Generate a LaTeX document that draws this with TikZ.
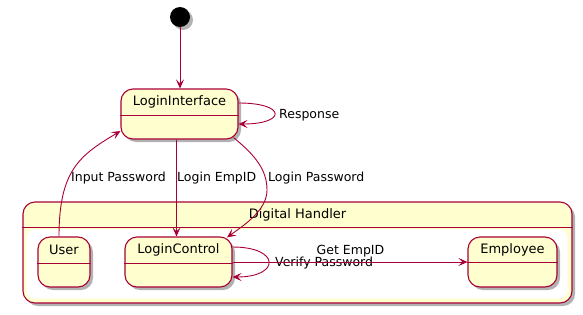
\documentclass[tikz,border=0pt]{standalone}
\usepackage{fontspec}
\setmainfont{DejaVu Sans}
\usetikzlibrary{arrows.meta,shadows}
\definecolor{umlred}{HTML}{A80036}
\definecolor{umlfill}{HTML}{FEFECE}

\begin{document}
\begin{tikzpicture}[x=1pt,y=-1pt,
  shade/.style={drop shadow={shadow xshift=3pt,shadow yshift=-3pt,opacity=0.3,fill=black}},
  state/.style={draw=umlred,fill=umlfill,line width=1.1pt,rounded corners=12pt,
    inner sep=0pt,shade},
  divider/.style={draw=umlred,line width=1.1pt},
  nm/.style={font=\fontsize{13}{15}\selectfont,inner sep=0pt},
  lbl/.style={font=\fontsize{12.5}{15}\selectfont,inner sep=0pt},
  edge/.style={draw=umlred,line width=0.9pt,
    -{Stealth[length=9pt,width=8pt,inset=4pt]}}]
\useasboundingbox (0,0) rectangle (583,314);

% initial pseudo-state
\node[circle,fill=black,minimum size=20pt,inner sep=0pt,shade] (start) at (180,17) {};

% top-level state
\node[state,minimum width=117pt,minimum height=50pt] (li) at (179.5,114) {};
\draw[divider] ([yshift=-27pt]li.north west) -- ([yshift=-27pt]li.north east);
\node[nm] (liname) at ([yshift=-13.5pt]li.north) {LoginInterface};

% composite state
\node[state,minimum width=549pt,minimum height=101pt] (dh) at (297.5,252.5) {};
\draw[divider] ([yshift=-26pt]dh.north west) -- ([yshift=-26pt]dh.north east);
\node[nm] (dhname) at ([yshift=-13pt]dh.north) {Digital Handler};
\fill[white,rounded corners=8pt] ([xshift=4pt,yshift=-28pt]dh.north west)
  rectangle ([xshift=-5pt,yshift=5pt]dh.south east);

% inner states
\node[state,minimum width=52pt,minimum height=50pt] (user) at (64,262) {};
\draw[divider] ([yshift=-27pt]user.north west) -- ([yshift=-27pt]user.north east);
\node[nm] (username) at ([yshift=-13.5pt]user.north) {User};

\node[state,minimum width=107pt,minimum height=50pt] (lc) at (178.5,262) {};
\draw[divider] ([yshift=-27pt]lc.north west) -- ([yshift=-27pt]lc.north east);
\node[nm] (lcname) at ([yshift=-13.5pt]lc.north) {LoginControl};

\node[state,minimum width=89pt,minimum height=50pt] (emp) at (512.5,262) {};
\draw[divider] ([yshift=-26pt]emp.north west) -- ([yshift=-26pt]emp.north east);
\node[nm] (empname) at ([yshift=-13.5pt]emp.north) {Employee};

% transitions
\draw[edge] (start) -- (start |- li.north);

\draw[edge] ([yshift=11pt]li.east) .. controls +(48,0) and +(48,0) .. ([yshift=-10pt]li.east);
\node[lbl,anchor=west] (lresp) at (279,115) {Response};

\draw[edge] ([xshift=-5pt]user.north) .. controls +(0,-67) and +(-40,24) .. ([yshift=-17pt]li.west);
\node[lbl] (linput) at (118.5,178) {Input Password};

\draw[edge] ([xshift=-3pt]li.south) -- ([xshift=-3pt]li.south |- lc.north);
\node[lbl,anchor=west] (lempid) at (177,178) {Login EmpID};

\coordinate (pwbend) at (267,190);
\draw[edge] ([xshift=54pt,yshift=2pt]li.south) .. controls +(22,18) and +(0,-20) .. (pwbend)
  .. controls +(0,20) and +(18,-13) .. ([xshift=48.5pt,yshift=-1pt]lc.north);
\node[lbl,anchor=west] (lpw) at (268,178) {Login Password};

\draw[edge] ([yshift=15pt]lc.east) .. controls +(48,0) and +(48,0) .. ([yshift=-15pt]lc.east);
\node[lbl,anchor=west] (lverify) at (275,263) {Verify Password};

\draw[edge] (lc.east) -- (emp.west);
\node[lbl] (lget) at (350.5,251) {Get EmpID};
\end{tikzpicture}
\end{document}
